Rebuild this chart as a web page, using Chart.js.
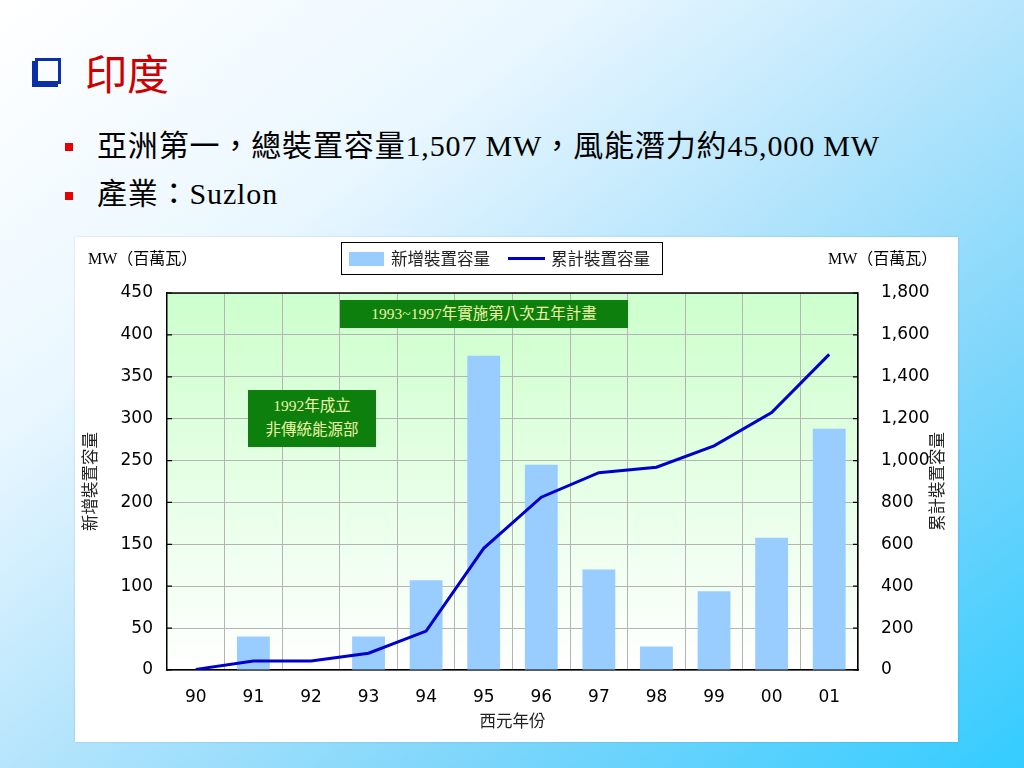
<!DOCTYPE html>
<html>
<head>
<meta charset="utf-8">
<script src="https://cdn.jsdelivr.net/npm/chart.js@4.4.1/dist/chart.umd.min.js"></script>
<style>
  html, body { margin:0; padding:0; }
  body {
    width:1024px; height:768px; overflow:hidden; position:relative;
    background: linear-gradient(to bottom right, #ffffff 0%, #eaf7ff 28%, #b6e5fc 50%, #7fd6fb 72%, #33ccff 100%);
    font-family: "Liberation Serif", "Noto Sans CJK TC", serif;
  }
  .abs { position:absolute; white-space:nowrap; }
  #icon { left:35px; top:58px; width:20px; height:20px; border:3px solid #0b2fa6; box-shadow:-3px 3px 0 #0b2fa6; background:transparent; }
  #title { left:85px; top:44px; font-size:42px; color:#cc0000; font-family:"Noto Sans CJK TC", serif; line-height:56px; }
  .bullet { width:8px; height:8px; background:#e60000; }
  .line { font-size:30px; color:#000; line-height:36px; letter-spacing:0.85px; }
  #panel { left:75px; top:237px; width:883px; height:505px; background:#fff; box-shadow:0 0 2px rgba(0,0,0,0.15); }
  #chart { position:absolute; left:75px; top:237px; }
  .mw { font-size:16px; color:#000; top:249px; line-height:20px; }
  #legend { left:341px; top:242px; width:320px; height:31px; border:1px solid #000; background:#fff; font-family:"Noto Sans CJK TC", sans-serif; font-size:16.5px; color:#222; }
  .note { background:#0d7f0d; color:#eef5a6; font-size:15.5px; font-family:"Liberation Serif","Noto Sans CJK TC",serif; text-align:center; }
</style>
</head>
<body>
<div class="abs" id="icon"></div>
<div class="abs" id="title">印度</div>
<div class="abs bullet" style="left:65px; top:143px;"></div>
<div class="abs line" style="left:97px; top:128px;">亞洲第一，總裝置容量1,507 MW，風能潛力約45,000 MW</div>
<div class="abs bullet" style="left:65px; top:192px;"></div>
<div class="abs line" style="left:97px; top:176px;">產業：Suzlon</div>

<div class="abs" id="panel"></div>
<canvas id="chart" width="883" height="505"></canvas>

<div class="abs mw" style="left:88px;">MW（百萬瓦）</div>
<div class="abs mw" style="left:828px;">MW（百萬瓦）</div>

<div class="abs" id="legend">
  <div class="abs" style="left:7px; top:9px; width:35px; height:14px; background:#99ccff;"></div>
  <div class="abs" style="left:49px; top:4px; line-height:22px;">新增裝置容量</div>
  <div class="abs" style="left:166px; top:14px; width:37px; height:3px; background:#0000cc;"></div>
  <div class="abs" style="left:209px; top:4px; line-height:22px;">累計裝置容量</div>
</div>

<div class="abs note" style="left:340px; top:300px; width:288px; height:28px; line-height:28px;">1993~1997年實施第八次五年計畫</div>
<div class="abs note" style="left:248px; top:390px; width:128px; height:57px; line-height:24px; padding-top:4px; box-sizing:border-box;">1992年成立<br>非傳統能源部</div>

<script>
const years = ['90','91','92','93','94','95','96','97','98','99','00','01'];
const newCapacity = [0, 40, 0, 40, 107, 375, 245, 120, 28, 94, 158, 288];
const cumulativeCapacity = [3, 43, 43, 80, 186, 581, 825, 942, 968, 1070, 1229, 1507];
const leftAxis = { min: 0, max: 450, step: 50 };
const rightAxis = { min: 0, max: 1800, step: 200 };
const seriesNames = ['新增裝置容量', '累計裝置容量'];
const axisTitles = { left: '新增裝置容量', right: '累計裝置容量', bottom: '西元年份' };

const tickFont = { family: 'DejaVu Sans', size: 17 };

const plotBg = {
  id: 'plotBg',
  beforeDraw(chart) {
    const { ctx, chartArea: a } = chart;
    const g = ctx.createLinearGradient(0, a.top, 0, a.bottom);
    g.addColorStop(0, '#ccffcc');
    g.addColorStop(1, '#ffffff');
    ctx.save();
    ctx.fillStyle = g;
    ctx.fillRect(a.left, a.top, a.right - a.left, a.bottom - a.top);
    ctx.restore();
  },
  afterDraw(chart) {
    const { ctx, chartArea: a, scales } = chart;
    ctx.save();
    ctx.strokeStyle = '#000';
    ctx.lineWidth = 1.5;
    ctx.beginPath();
    ctx.moveTo(a.left, a.top); ctx.lineTo(a.right, a.top);
    ctx.stroke();
    ctx.lineWidth = 1.2;
    ctx.beginPath();
    scales.y.ticks.forEach(t => {
      const py = scales.y.getPixelForValue(t.value);
      ctx.moveTo(a.left, py); ctx.lineTo(a.left + 5, py);
    });
    scales.y1.ticks.forEach(t => {
      const py = scales.y1.getPixelForValue(t.value);
      ctx.moveTo(a.right, py); ctx.lineTo(a.right - 5, py);
    });
    ctx.stroke();
    ctx.fillStyle = '#222';
    ctx.font = '16.5px "Noto Sans CJK TC", sans-serif';
    ctx.textAlign = 'center';
    ctx.textBaseline = 'middle';
    const cy = (a.top + a.bottom) / 2;
    ctx.save();
    ctx.translate(15, cy); ctx.rotate(-Math.PI / 2);
    ctx.fillText(axisTitles.left, 0, 0);
    ctx.restore();
    ctx.save();
    ctx.translate(862, cy); ctx.rotate(-Math.PI / 2);
    ctx.fillText(axisTitles.right, 0, 0);
    ctx.restore();
    ctx.fillText(axisTitles.bottom, (a.left + a.right) / 2, 484);
    ctx.restore();
  }
};

new Chart(document.getElementById('chart'), {
  data: {
    labels: years,
    datasets: [
      {
        type: 'line', label: seriesNames[1], data: cumulativeCapacity, yAxisID: 'y1',
        borderColor: '#0000cc', borderWidth: 3, pointRadius: 0, tension: 0, order: 0
      },
      {
        type: 'bar', label: seriesNames[0], data: newCapacity, yAxisID: 'y',
        backgroundColor: '#99ccff', borderWidth: 0, categoryPercentage: 1, barPercentage: 0.57, order: 1
      }
    ]
  },
  options: {
    responsive: false, animation: false, devicePixelRatio: 1,
    layout: { padding: { top: 56, left: 0, right: 0, bottom: 0 } },
    plugins: { legend: { display: false }, tooltip: { enabled: false } },
    scales: {
      x: {
        offset: true,
        grid: { offset: true, color: '#b4b4b4', lineWidth: 1, drawTicks: false },
        border: { display: true, color: '#000', width: 1.5 },
        ticks: { color: '#000', font: tickFont, padding: 17, maxRotation: 0 },
        afterFit(s) { s.height = 72; }
      },
      y: {
        position: 'left', min: leftAxis.min, max: leftAxis.max,
        grid: { color: '#b4b4b4', lineWidth: 1, drawTicks: false },
        border: { display: true, color: '#000', width: 1.5 },
        ticks: { stepSize: leftAxis.step, color: '#000', font: tickFont, padding: 14 },
        afterFit(s) { s.width = 92; }
      },
      y1: {
        position: 'right', min: rightAxis.min, max: rightAxis.max,
        grid: { display: false, drawOnChartArea: false },
        border: { display: true, color: '#000', width: 1.5 },
        ticks: { stepSize: rightAxis.step, color: '#000', font: tickFont, padding: 15,
          callback: v => v.toLocaleString('en-US') },
        afterFit(s) { s.width = 100; }
      }
    }
  },
  plugins: [plotBg]
});
</script>
</body>
</html>
